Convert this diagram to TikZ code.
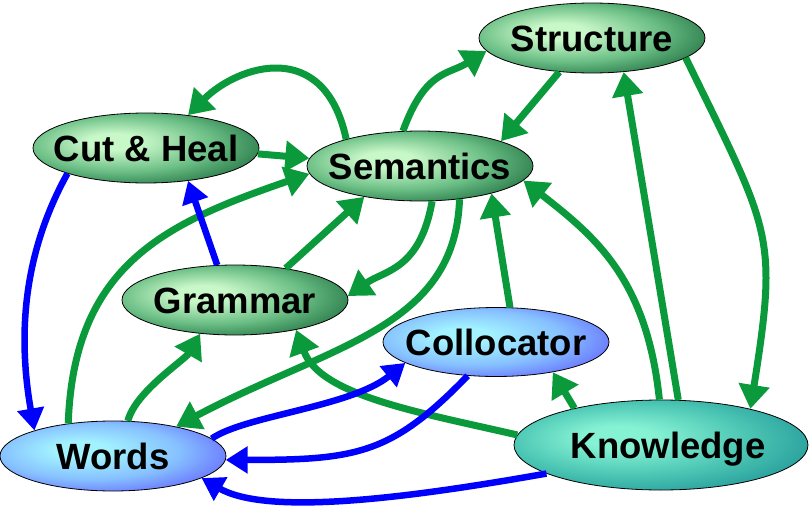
\documentclass[tikz,border=0pt]{standalone}
\usepackage{fontspec}
\setmainfont{Liberation Sans}
\usetikzlibrary{shapes.geometric,arrows.meta}
\definecolor{gL}{HTML}{C8F7C8}
\definecolor{gM}{HTML}{6CBF86}
\definecolor{gD}{HTML}{1B6B3C}
\definecolor{bL}{HTML}{A2F2FF}
\definecolor{bM}{HTML}{86C0FF}
\definecolor{bD}{HTML}{6262FF}
\definecolor{kL}{HTML}{86F2D4}
\definecolor{kM}{HTML}{4CC6B4}
\definecolor{kD}{HTML}{1E9496}
\definecolor{arrG}{HTML}{0A9A3C}
\definecolor{arrB}{HTML}{0000FF}
\pgfdeclareradialshading{gshade}{\pgfpoint{-8bp}{5bp}}{color(0bp)=(gL); color(6bp)=(gL); color(20bp)=(gM); color(34bp)=(gD); color(60bp)=(gD)}
\pgfdeclareradialshading{bshade}{\pgfpoint{-8bp}{5bp}}{color(0bp)=(bL); color(6bp)=(bL); color(20bp)=(bM); color(34bp)=(bD); color(60bp)=(bD)}
\pgfdeclareradialshading{kshade}{\pgfpoint{-8bp}{5bp}}{color(0bp)=(kL); color(6bp)=(kL); color(20bp)=(kM); color(34bp)=(kD); color(60bp)=(kD)}
\newcommand\ctext[1]{\makebox[0pt]{\raisebox{-0.36em}[0pt][0pt]{#1}}}
\begin{document}
\begin{tikzpicture}[x=1pt,y=1pt,
  ent/.style={ellipse, draw=black, line width=0.8pt, inner sep=0pt, minimum width=226pt, minimum height=70pt, font=\fontsize{36.5}{40}\selectfont\bfseries},
  gent/.style={ent, shade, shading=gshade},
  bent/.style={ent, shade, shading=bshade},
  kent/.style={ent, shade, shading=kshade, minimum width=294pt, minimum height=90pt},
  ga/.style={draw=arrG, line width=7pt, -{Triangle[length=24pt,width=30pt]}},
  ba/.style={draw=arrB, line width=6.5pt, -{Triangle[length=22pt,width=26pt]}}]
\useasboundingbox (0,0) rectangle (809,-506);
\node[gent] (str) at (592,-38) {\ctext{Structure}};
\node[gent] (cut) at (146,-148) {\ctext{Cut \& Heal}};
\node[gent] (sem) at (420,-166) {\ctext{Semantics}};
\node[gent] (gram) at (235,-300) {\ctext{Grammar}};
\node[bent, minimum height=69pt] (coll) at (496,-342) {\ctext{Collocator}};
\node[bent] (words) at (113,-456) {\ctext{Words}};
\node[kent] (know) at (661,-445) {\ctext{\hspace{14pt}Knowledge}};
\draw[ga] (sem.160) to[out=102,in=45,out distance=105pt,in distance=70pt] (cut.38);
\draw[ga] (cut.-3) -- (sem.176);
\draw[ga] (sem.116) to[out=70,in=212,out distance=65pt,in distance=45pt] (str.187);
\draw[ga] (str.226) -- (sem.17);
\draw[ga] (str.-12) to[out=-64,in=81,out distance=195pt,in distance=177pt] (know.22);
\draw[ga] (know.69) -- (str.-47);
\draw[ga] (know.92) to[out=96,in=-38,out distance=121pt,in distance=92pt] (sem.-8);
\draw[ga] (coll.68) -- (sem.-21);
\draw[ga] (sem.-71) to[out=-100,in=35,out distance=70pt,in distance=45pt] (gram.2);
\draw[ga] (gram.32) -- (sem.209);
\draw[ga] (words.144) to[out=88,in=199,out distance=160pt,in distance=150pt] (sem.184);
\draw[ga] (sem.-40) to[out=-92,in=28,out distance=130pt,in distance=175pt] (words.25);
\draw[ga] (words.67) to[out=76,in=240,out distance=30pt,in distance=30pt] (gram.224);
\draw[ga] (know.176) to[out=167,in=-70,out distance=100pt,in distance=70pt] (gram.-26);
\draw[ga] (know.157) -- (coll.-28);
\draw[ba] (gram.117) -- (cut.-38);
\draw[ba] (cut.198) to[out=241,in=100,out distance=80pt,in distance=110pt] (words.162);
\draw[ba] (words.10) to[out=35,in=219,out distance=40pt,in distance=70pt] (coll.193);
\draw[ba] (coll.230) to[out=226,in=0,out distance=110pt,in distance=130pt] (words.-2.5);
\draw[ba] (know.194) to[out=190,in=-30,out distance=120pt,in distance=80pt] (words.-14);
\end{tikzpicture}
\end{document}
